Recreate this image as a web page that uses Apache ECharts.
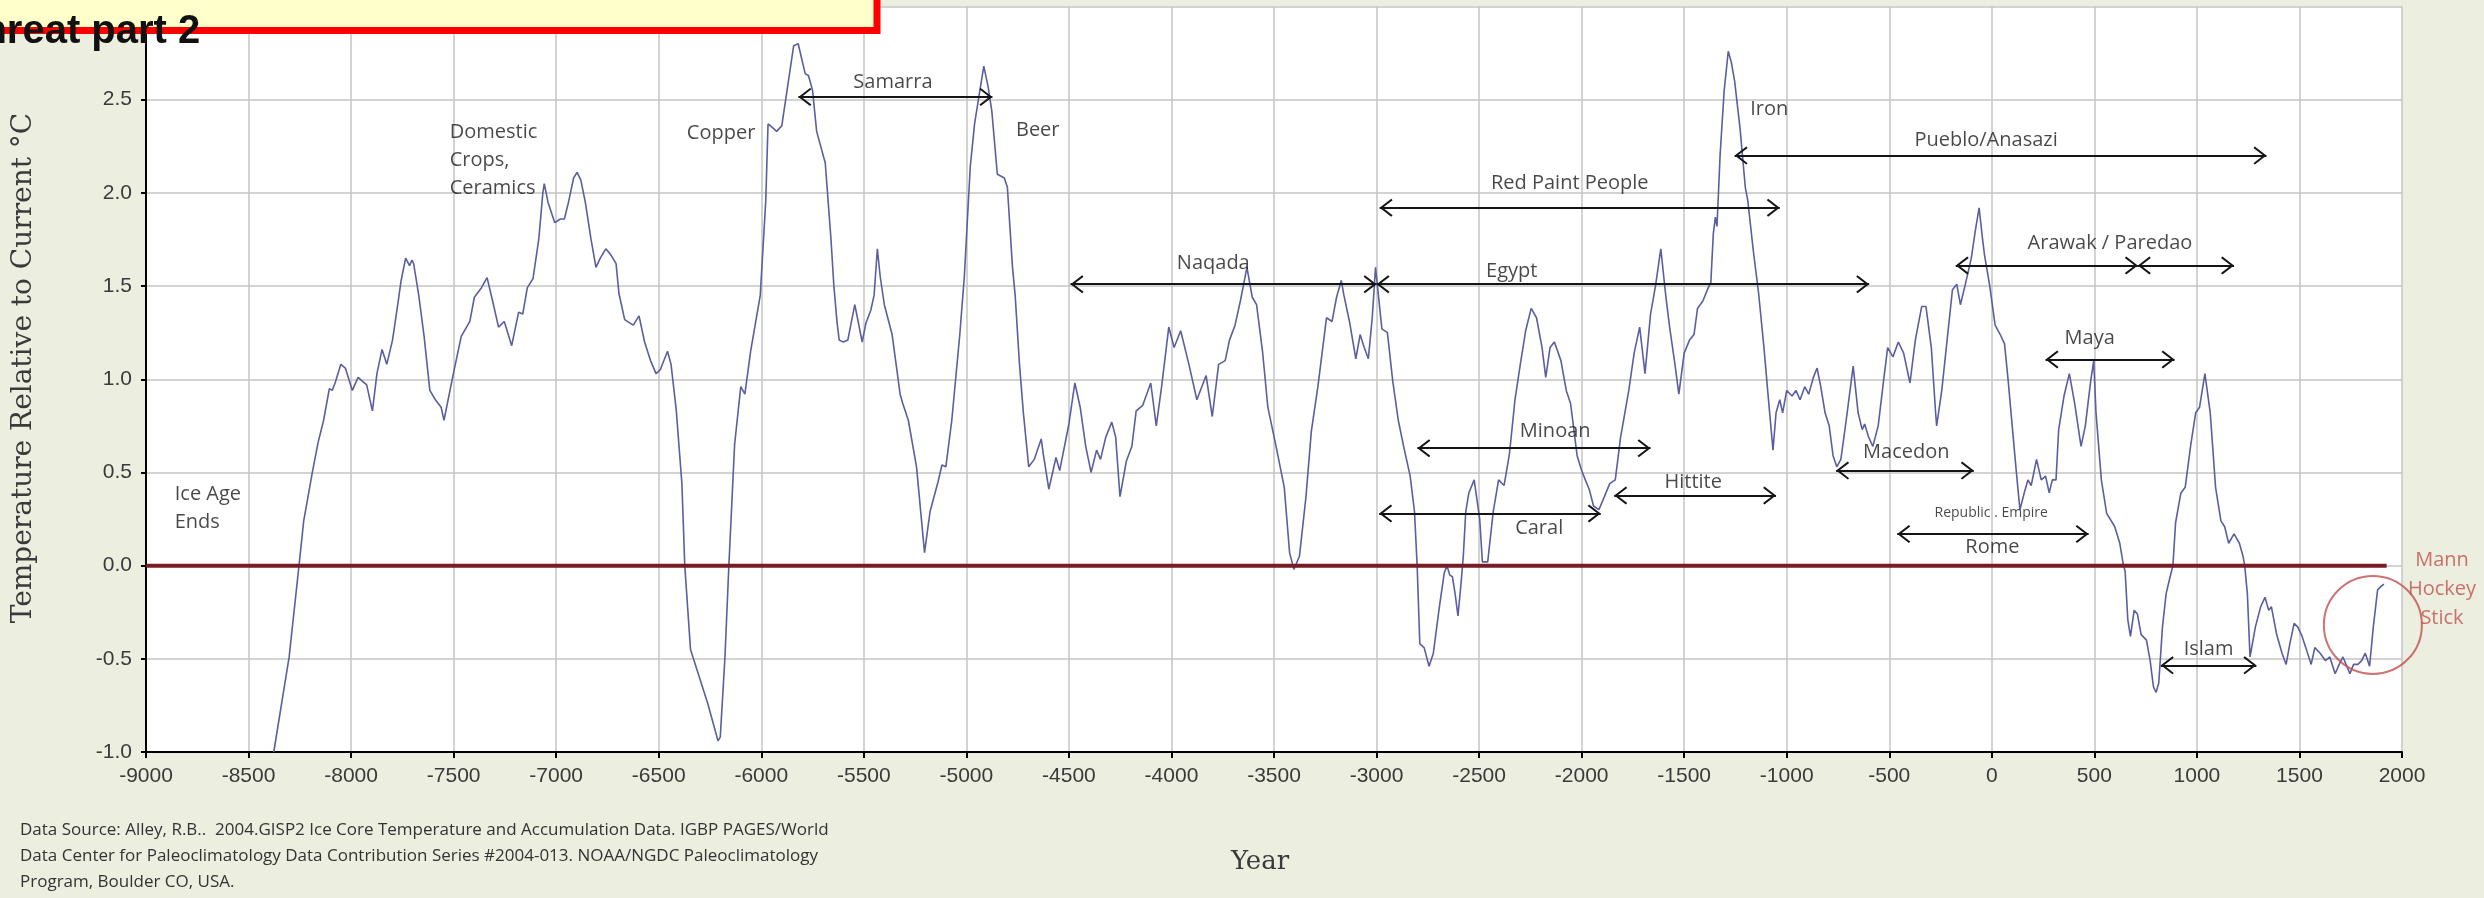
<!DOCTYPE html>
<html><head><meta charset="utf-8">
<script src="https://cdn.jsdelivr.net/npm/echarts@6/dist/echarts.min.js"></script>
<style>html,body{margin:0;padding:0;background:#ECEEDF;overflow:hidden}#c{width:2484px;height:898px}</style>
</head><body><div id="c"></div>
<script>
// GISP2 temperature relative to current
const years = [
-8377,-8302,-8254,-8231,-8189,-8161,-8134,-8106,-8092,-8078,-8050,-8028,-7994,-7966,-7924,-7896,-7874,-7849,-7826,-7798,
-7770,-7756,-7734,-7715,-7703,-7695,-7670,-7644,-7616,-7589,-7561,-7547,-7505,-7463,-7421,-7399,-7365,-7337,-7310,-7281,
-7253,-7217,-7183,-7163,-7141,-7113,-7085,-7065,-7058,-7040,-7007,-6980,-6960,-6940,-6915,-6898,-6880,-6858,-6830,-6806,
-6785,-6758,-6735,-6708,-6694,-6666,-6638,-6624,-6596,-6569,-6540,-6513,-6493,-6457,-6440,-6415,-6387,-6373,-6345,-6261,
-6211,-6200,-6177,-6158,-6130,-6100,-6080,-6052,-6005,-5978,-5967,-5945,-5925,-5900,-5842,-5820,-5786,-5770,-5750,-5730,
-5688,-5660,-5646,-5630,-5620,-5600,-5578,-5544,-5508,-5490,-5466,-5450,-5434,-5420,-5400,-5362,-5323,-5310,-5283,-5243,
-5204,-5177,-5138,-5119,-5100,-5071,-5032,-5010,-4981,-4960,-4934,-4915,-4894,-4876,-4849,-4815,-4800,-4775,-4762,-4741,
-4722,-4696,-4669,-4635,-4625,-4598,-4563,-4545,-4500,-4471,-4445,-4418,-4392,-4365,-4346,-4320,-4291,-4272,-4251,-4220,
-4193,-4172,-4140,-4101,-4074,-4048,-4013,-3987,-3955,-3915,-3876,-3831,-3801,-3770,-3738,-3717,-3690,-3664,-3632,-3606,
-3585,-3556,-3530,-3490,-3450,-3424,-3403,-3376,-3344,-3318,-3286,-3244,-3217,-3195,-3172,-3159,-3132,-3101,-3080,-3060,
-3040,-3021,-3005,-2974,-2947,-2921,-2894,-2868,-2836,-2815,-2802,-2789,-2768,-2744,-2723,-2696,-2670,-2657,-2643,-2630,
-2617,-2603,-2590,-2577,-2565,-2550,-2524,-2497,-2484,-2458,-2431,-2405,-2378,-2352,-2325,-2299,-2273,-2246,-2220,-2193,
-2175,-2154,-2133,-2101,-2075,-2054,-2022,-2000,-1982,-1963,-1942,-1916,-1889,-1863,-1836,-1810,-1770,-1744,-1717,-1691,
-1664,-1640,-1614,-1590,-1571,-1545,-1526,-1500,-1474,-1452,-1435,-1409,-1383,-1370,-1358,-1348,-1340,-1325,-1305,-1285,
-1270,-1254,-1228,-1202,-1190,-1163,-1137,-1111,-1093,-1067,-1052,-1034,-1020,-1000,-974,-955,-935,-912,-893,-870,
-852,-834,-813,-793,-774,-756,-736,-710,-676,-652,-632,-620,-601,-580,-554,-528,-508,-482,-456,-430,
-399,-373,-342,-321,-295,-274,-269,-244,-218,-192,-171,-153,-127,-100,-80,-62,-45,-36,-10,16,
41,62,80,101,119,137,158,176,192,218,241,262,280,295,313,326,352,378,404,435,
456,482,497,508,534,560,599,624,642,650,663,676,694,710,728,754,772,788,801,814,
832,850,865,883,896,922,943,969,994,1013,1039,1065,1091,1117,1135,1155,1181,1207,1225,1233,
1246,1259,1285,1311,1332,1350,1363,1389,1415,1435,1453,1474,1492,1513,1531,1557,1575,1601,1627,1648,
1674,1694,1712,1731,1746,1764,1785,1803,1821,1842,1860,1881,1899,1912
];
const temps = [
-1.00,-0.49,0.00,0.24,0.50,0.66,0.78,0.95,0.94,0.98,1.08,1.06,0.94,1.01,0.97,0.83,1.03,1.16,1.08,1.21,
1.42,1.53,1.65,1.61,1.64,1.62,1.45,1.23,0.94,0.89,0.85,0.78,1.01,1.23,1.31,1.44,1.49,1.545,1.42,1.28,
1.31,1.18,1.36,1.35,1.49,1.54,1.75,2.00,2.05,1.95,1.84,1.86,1.86,1.95,2.08,2.11,2.07,1.95,1.75,1.60,
1.65,1.70,1.67,1.62,1.46,1.32,1.30,1.29,1.34,1.20,1.10,1.03,1.05,1.15,1.08,0.84,0.44,0.00,-0.45,-0.74,
-0.94,-0.92,-0.49,0.00,0.65,0.96,0.92,1.15,1.45,1.96,2.37,2.35,2.33,2.36,2.79,2.80,2.64,2.63,2.55,2.33,
2.16,1.75,1.50,1.30,1.21,1.20,1.21,1.40,1.20,1.30,1.37,1.45,1.70,1.55,1.40,1.24,0.92,0.87,0.78,0.53,
0.07,0.29,0.45,0.54,0.53,0.78,1.24,1.55,2.14,2.37,2.55,2.68,2.57,2.44,2.10,2.08,2.03,1.60,1.45,1.08,
0.82,0.53,0.57,0.68,0.60,0.41,0.58,0.51,0.76,0.98,0.85,0.64,0.50,0.62,0.57,0.69,0.77,0.69,0.37,0.56,
0.64,0.83,0.86,0.98,0.75,0.96,1.28,1.17,1.26,1.08,0.89,1.02,0.80,1.08,1.10,1.21,1.29,1.42,1.60,1.44,
1.40,1.15,0.85,0.64,0.42,0.07,-0.02,0.05,0.37,0.72,0.96,1.33,1.31,1.44,1.53,1.45,1.31,1.11,1.24,1.17,
1.11,1.33,1.60,1.27,1.25,0.99,0.78,0.64,0.48,0.29,0.00,-0.42,-0.44,-0.54,-0.47,-0.24,-0.04,0.00,-0.05,-0.06,
-0.15,-0.27,-0.12,0.05,0.29,0.39,0.46,0.25,0.02,0.02,0.29,0.46,0.43,0.60,0.89,1.08,1.26,1.38,1.33,1.17,
1.01,1.17,1.20,1.10,0.94,0.87,0.59,0.51,0.46,0.41,0.32,0.30,0.37,0.44,0.46,0.69,0.94,1.14,1.28,1.03,
1.35,1.50,1.70,1.45,1.28,1.08,0.92,1.14,1.21,1.24,1.38,1.42,1.49,1.52,1.78,1.87,1.82,2.20,2.55,2.76,
2.70,2.60,2.35,2.03,1.96,1.69,1.46,1.17,0.94,0.62,0.82,0.89,0.82,0.94,0.91,0.94,0.89,0.96,0.92,1.01,
1.06,0.96,0.82,0.75,0.59,0.53,0.57,0.78,1.07,0.82,0.73,0.76,0.69,0.64,0.75,0.99,1.17,1.12,1.20,1.14,
0.98,1.21,1.39,1.39,1.17,0.82,0.75,0.94,1.21,1.48,1.51,1.40,1.52,1.65,1.80,1.92,1.75,1.67,1.50,1.29,
1.24,1.19,0.99,0.73,0.51,0.30,0.39,0.46,0.43,0.57,0.46,0.48,0.39,0.46,0.46,0.73,0.91,1.03,0.87,0.64,
0.75,0.99,1.10,0.82,0.46,0.28,0.21,0.12,0.00,-0.03,-0.29,-0.38,-0.24,-0.26,-0.37,-0.40,-0.51,-0.65,-0.68,-0.63,
-0.33,-0.15,-0.08,0.00,0.23,0.39,0.42,0.64,0.82,0.85,1.03,0.82,0.42,0.24,0.21,0.12,0.17,0.12,0.05,0.00,
-0.15,-0.49,-0.33,-0.22,-0.17,-0.24,-0.22,-0.37,-0.47,-0.53,-0.42,-0.31,-0.33,-0.38,-0.44,-0.53,-0.44,-0.47,-0.51,-0.49,
-0.58,-0.53,-0.49,-0.54,-0.58,-0.53,-0.53,-0.51,-0.47,-0.54,-0.33,-0.13,-0.11,-0.10
];
// reference (zero) line extent
const zeroLineYears = [-9000, 1925];
// era arrows: [from year, to year, level]
const arrows = [
  [-5819,-4873,2.515],[-4492,-3000,1.51],[-3000,-598,1.51],[-2985,-1034,1.92],
  [-1254,1339,2.2],[-176,712,1.61],[712,1181,1.61],[262,891,1.106],
  [-2801,-1664,0.63],[-2987,-1907,0.28],[-1841,-1052,0.376],[-759,-88,0.51],
  [-461,472,0.17],[824,1290,-0.535]
];
// annotation texts: [year, level, text, align]
const notes = [
  [-8860,0.305,'Ice Age\nEnds','left'],
  [-7519,2.175,'Domestic\nCrops,\nCeramics','left'],
  [-6196,2.32,'Copper','center'],
  [-5358,2.595,'Samarra','center'],
  [-4652,2.335,'Beer','center'],
  [-3796,1.62,'Naqada','center'],
  [-2341,1.58,'Egypt','center'],
  [-2058,2.05,'Red Paint People','center'],
  [-1085,2.45,'Iron','center'],
  [-28,2.28,'Pueblo/Anasazi','center'],
  [576,1.73,'Arawak / Paredao','center'],
  [477,1.22,'Maya','center'],
  [-2129,0.72,'Minoan','center'],
  [-2207,0.2,'Caral','center'],
  [-1456,0.446,'Hittite','center'],
  [-417,0.61,'Macedon','center'],
  [3,0.1,'Rome','center'],
  [1057,-0.45,'Islam','center']
];
const smallNotes = [[-3,0.28,'Republic . Empire']];
const hockeyCircle = [1858,-0.318];
const hockeyText = [2195,-0.125,'Mann\nHockey\nStick'];
const yTickLabels = ['-1.0','-0.5','0.0','0.5','1.0','1.5','2.0','2.5',''];

const chart = echarts.init(document.getElementById('c'), null, {renderer:'canvas'});
const series = years.map((y,i)=>[y,temps[i]]);
const chev = 'path://M0,-13.4 L0.1,-13.4 L0,-13.3 Z M0,0 L10,12 L8.4,13.4 L0,3.3 L-8.4,13.4 L-10,12 Z';
const FONT = 'Open Sans';
chart.setOption({
  animation:false,
  backgroundColor:'#ECEEDF',
  grid:{left:146,right:82,top:6.5,bottom:146,show:true,backgroundColor:'#FFFFFF',borderWidth:0},
  xAxis:{type:'value',min:-9000,max:2000,interval:500,
    axisLine:{show:true,onZero:false,lineStyle:{color:'#000',width:2}},
    axisTick:{show:true,length:6,lineStyle:{color:'#000',width:2}},
    axisLabel:{fontSize:21,color:'#3a3a3a',fontFamily:'Liberation Sans',margin:14,
      formatter:v=>String(v)},
    splitLine:{show:true,lineStyle:{color:'#C4C4C4',width:1.5}}},
  yAxis:{type:'value',min:-1,max:3,interval:0.5,
    axisLine:{show:true,onZero:false,lineStyle:{color:'#000',width:2}},
    axisTick:{show:true,length:5,lineStyle:{color:'#000',width:2}},
    axisLabel:{fontSize:21,color:'#3a3a3a',fontFamily:'Liberation Sans',margin:14,
      formatter:(v)=>yTickLabels[Math.round((v+1)/0.5)]},
    splitLine:{show:true,lineStyle:{color:'#C4C4C4',width:1.5}}},
  series:[
    {type:'line',data:series,symbol:'none',z:3,
      lineStyle:{color:'#5B5E9F',width:1.6}},
    {type:'line',data:zeroLineYears.map(x=>[x,0]),symbol:'none',z:4,
      lineStyle:{color:'#7A1B26',width:4},
      markLine:{silent:true,symbol:[chev,chev],symbolSize:[18,26],
        lineStyle:{color:'#151515',width:2,type:'solid'},label:{show:false},
        data:arrows.map(a=>[{coord:[a[0],a[2]]},{coord:[a[1],a[2]]}])}},
    {type:'scatter',symbolSize:1,clip:false,z:6,itemStyle:{color:'rgba(0,0,0,0)'},
      label:{show:true,position:'inside',fontFamily:FONT,fontSize:20,color:'#1a1a1a',lineHeight:28},
      data:notes.map(n=>({value:[n[0],n[1]],label:{formatter:n[2],align:n[3]}}))},
    {type:'scatter',symbolSize:1,clip:false,z:6,itemStyle:{color:'rgba(0,0,0,0)'},
      label:{show:true,position:'inside',fontFamily:FONT,fontSize:14,color:'#1a1a1a'},
      data:smallNotes.map(n=>({value:[n[0],n[1]],label:{formatter:n[2]}}))},
    {type:'scatter',symbol:'circle',symbolSize:98,clip:false,z:5,
      itemStyle:{color:'rgba(0,0,0,0)',borderColor:'#C0504D',borderWidth:2},
      data:[hockeyCircle]},
    {type:'scatter',symbolSize:1,clip:false,z:6,itemStyle:{color:'rgba(0,0,0,0)'},
      label:{show:true,position:'inside',fontFamily:FONT,fontSize:20,color:'#C0504D',lineHeight:29},
      data:[{value:[hockeyText[0],hockeyText[1]],label:{formatter:hockeyText[2]}}]}
  ],
  graphic:[
    {type:'rect',z:100,shape:{x:-20,y:-30,width:897,height:60.5},
      style:{fill:'#FFFFCC',stroke:'#FF0000',lineWidth:7}},
    {type:'text',z:101,x:-42,y:12,style:{text:'Threat part 2',font:'bold 40px "Liberation Sans"',fill:'#111',textBaseline:'alphabetic'}},
    {type:'text',z:100,x:24,y:368,rotation:Math.PI/2,
      style:{text:'Temperature Relative to Current \u00B0C',font:'28px "DejaVu Serif"',fill:'#3a3a3a',align:'center',verticalAlign:'middle'}},
    {type:'text',z:100,x:1260,y:862,
      style:{text:'Year',font:'26px "DejaVu Serif"',fill:'#3a3a3a',align:'center',verticalAlign:'middle'}},
    {type:'text',z:100,x:20,y:817,
      style:{text:'Data Source: Alley, R.B..  2004.GISP2 Ice Core Temperature and Accumulation Data. IGBP PAGES/World\nData Center for Paleoclimatology Data Contribution Series #2004-013. NOAA/NGDC Paleoclimatology\nProgram, Boulder CO, USA.',
        font:'17px "Open Sans"',lineHeight:26,fill:'#333'}}
  ]
});
</script></body></html>
